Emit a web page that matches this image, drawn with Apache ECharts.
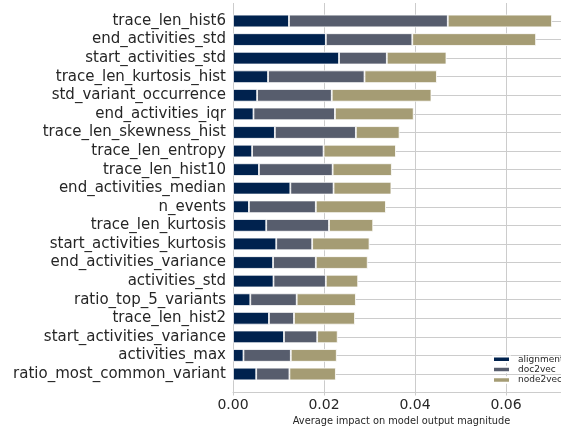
<!DOCTYPE html>
<html>
<head>
<meta charset="utf-8">
<script src="https://cdn.jsdelivr.net/npm/echarts@6/dist/echarts.min.js"></script>
<style>
  html, body { margin: 0; padding: 0; background: #fff; }
  #chart { width: 561px; height: 426px; }
</style>
</head>
<body>
<div id="chart"></div>
<script>
// Feature names, top to bottom
const categories = [
  'trace_len_hist6', 'end_activities_std', 'start_activities_std',
  'trace_len_kurtosis_hist', 'std_variant_occurrence', 'end_activities_iqr',
  'trace_len_skewness_hist', 'trace_len_entropy', 'trace_len_hist10',
  'end_activities_median', 'n_events', 'trace_len_kurtosis',
  'start_activities_kurtosis', 'end_activities_variance', 'activities_std',
  'ratio_top_5_variants', 'trace_len_hist2', 'start_activities_variance',
  'activities_max', 'ratio_most_common_variant'
];

// Mean |impact| per feature, split by embedding
const alignment = [0.0123, 0.0204, 0.0233, 0.0077, 0.0053, 0.0045, 0.0092, 0.0042, 0.0057, 0.0126,
                   0.0035, 0.0073, 0.0095, 0.0088, 0.0089, 0.0038, 0.0079, 0.0112, 0.0023, 0.0051];
const doc2vec   = [0.0349, 0.0190, 0.0105, 0.0212, 0.0164, 0.0179, 0.0178, 0.0157, 0.0162, 0.0095,
                   0.0147, 0.0138, 0.0079, 0.0094, 0.0115, 0.0102, 0.0055, 0.0073, 0.0104, 0.0073];
const node2vec  = [0.0229, 0.0272, 0.0131, 0.0159, 0.0219, 0.0173, 0.0096, 0.0159, 0.0130, 0.0127,
                   0.0154, 0.0097, 0.0126, 0.0114, 0.0071, 0.0130, 0.0134, 0.0045, 0.0101, 0.0102];

const seriesNames = ['alignment', 'doc2vec', 'node2vec'];
const xTicks = [0, 0.02, 0.04, 0.06];
const X_MAX = 0.0723;

const colors = ['#00224e', '#575d6d', '#a59c74'];
const FONT = 'DejaVu Sans';
const TEXT = '#262626';
const GRID = '#cccccc';

const chart = echarts.init(document.getElementById('chart'), null, { renderer: 'canvas' });

function barSeries(name, data, i) {
  const s = {
    name: name,
    type: 'bar',
    stack: 'total',
    xAxisIndex: 0,
    data: data,
    barWidth: 12.6,
    z: 2,
    itemStyle: { color: colors[i], borderColor: '#ffffff', borderWidth: 0.8 }
  };
  if (i === 0) {
    // horizontal guide line through each feature row, behind the bars
    s.markLine = {
      silent: true,
      z: 1,
      symbol: ['none', 'none'],
      label: { show: false },
      lineStyle: { color: GRID, width: 1, type: 'solid' },
      data: categories.map(c => ({ yAxis: c }))
    };
  }
  return s;
}

const xBase = {
  type: 'value',
  min: 0,
  max: X_MAX,
  interval: 0.02,
  position: 'bottom',
  offset: 8.7,
  splitLine: { show: false }
};

chart.setOption({
  animation: false,
  backgroundColor: '#ffffff',
  textStyle: { fontFamily: FONT, color: TEXT },
  grid: {
    left: 233, right: -1, top: 11.7, bottom: 42.7,
    containLabel: false,
    outerBoundsMode: 'none'
  },
  legend: {
    orient: 'vertical',
    left: 492,
    top: 354.2,
    padding: 0,
    itemWidth: 17,
    itemHeight: 5.5,
    itemGap: 0.4,
    icon: 'rect',
    textStyle: { fontFamily: FONT, fontSize: 9, color: TEXT, lineHeight: 10, padding: [0, 0, 0, 3] },
    data: seriesNames
  },
  xAxis: [
    Object.assign({}, xBase, {
      axisLine: { show: true, lineStyle: { color: GRID, width: 1 } },
      axisTick: { show: true, inside: false, length: 3.5, lineStyle: { color: GRID, width: 1 } },
      axisLabel: {
        fontFamily: FONT, fontSize: 14, color: TEXT, margin: 6,
        showMaxLabel: false,
        formatter: v => (xTicks.some(t => Math.abs(t - v) < 1e-9) ? v.toFixed(2) : '')
      },
      name: 'Average impact on model output magnitude',
      nameLocation: 'middle',
      nameGap: 23,
      nameTextStyle: { fontFamily: FONT, fontSize: 9.8, color: TEXT, padding: [0, 0, 0, 8] }
    }),
    // vertical grid lines: long inward ticks spanning the whole frame height
    Object.assign({}, xBase, {
      axisLine: { show: false },
      axisLabel: { show: false },
      axisTick: { show: true, inside: true, length: 389, lineStyle: { color: GRID, width: 1 } }
    })
  ],
  yAxis: {
    type: 'category',
    inverse: true,
    data: categories,
    axisLine: { show: false },
    axisTick: { show: false },
    splitLine: { show: false },
    axisLabel: { fontFamily: FONT, fontSize: 15, color: TEXT, margin: 7, interval: 0 }
  },
  series: [
    barSeries(seriesNames[0], alignment, 0),
    barSeries(seriesNames[1], doc2vec, 1),
    barSeries(seriesNames[2], node2vec, 2)
  ]
});
</script>
</body>
</html>
